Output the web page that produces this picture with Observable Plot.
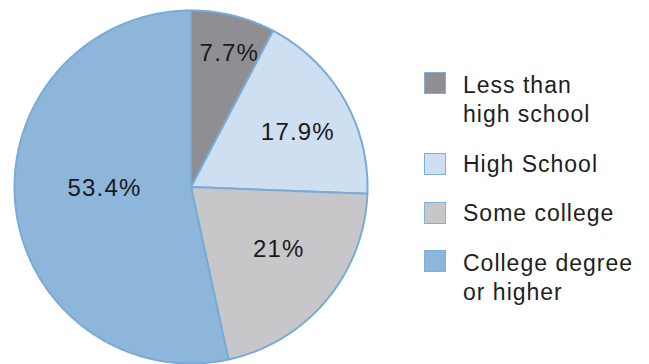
<!DOCTYPE html>
<html>
<head>
<meta charset="utf-8">
<script src="https://cdn.jsdelivr.net/npm/d3@7"></script>
<script src="https://cdn.jsdelivr.net/npm/@observablehq/plot@0.6"></script>
<style>
  html, body { margin: 0; padding: 0; background: #fff; }
  #wrap { position: relative; width: 649px; height: 364px; overflow: hidden; font-family: "Liberation Sans", Arial, Helvetica, sans-serif; }
  #wrap svg { position: absolute; left: 0; top: 0; }
  #wrap svg text { letter-spacing: 1.2px; }
  .leg { position: absolute; left: 424px; color: #1e1e1e; font-size: 23px; line-height: 29px; letter-spacing: 1px; }
  .leg .sw { position: absolute; left: 0; width: 20px; height: 20px; border: 1.5px solid #7fb0da; }
  .leg .tx { position: absolute; left: 39px; top: 0; white-space: nowrap; }
</style>
</head>
<body>
<div id="wrap"></div>
<script>
const categories = ["Less than\nhigh school", "High School", "Some college", "College degree\nor higher"];
const values = [7.7, 17.9, 21, 53.4];
const valueLabels = ["7.7%", "17.9%", "21%", "53.4%"];
const colors = ["#8f8f93", "#cddff0", "#c7c7c9", "#8db6da"];

// layout (not data)
const labelRadius = [0.79, 0.68, 0.61, 0.49];
const labelAngleShift = [2.1, 3.0, -4.5, 5.1];
const legendTops = [71, 150, 199, 249];
const swatchOffset = [1, 3, 3, 1];

const pie = d3.pie().sort(null).value(d => d.value)(categories.map((c, i) => ({cat: c, value: values[i]})));

const poly = [];
const labels = [];
pie.forEach((s, i) => {
  const a0 = s.startAngle, a1 = s.endAngle;
  poly.push({cat: s.data.cat, x: 0, y: 0});
  const n = Math.max(2, Math.ceil((a1 - a0) / (Math.PI / 360)));
  for (let k = 0; k <= n; k++) {
    const a = a0 + (a1 - a0) * k / n;
    poly.push({cat: s.data.cat, x: Math.sin(a), y: Math.cos(a)});
  }
  const m = (a0 + a1) / 2 + labelAngleShift[i] * Math.PI / 180;
  labels.push({text: valueLabels[i], x: labelRadius[i] * Math.sin(m), y: labelRadius[i] * Math.cos(m)});
});

const chart = Plot.plot({
  width: 649,
  height: 364,
  marginLeft: 14,
  marginRight: 282,
  marginTop: 10,
  marginBottom: 1,
  x: {domain: [-1, 1], axis: null},
  y: {domain: [-1, 1], axis: null},
  color: {domain: categories, range: colors},
  style: {fontFamily: "Liberation Sans, Arial, Helvetica, sans-serif", background: "transparent"},
  marks: [
    Plot.line(poly, {x: "x", y: "y", z: "cat", fill: "cat", stroke: "#78acd7", strokeWidth: 2, curve: "linear-closed", strokeLinejoin: "round"}),
    Plot.text(labels, {x: "x", y: "y", text: "text", fontSize: 24, fill: "#1a1a1a", lineAnchor: "middle"})
  ]
});
const wrap = document.getElementById("wrap");
wrap.appendChild(chart);

categories.forEach((c, i) => {
  const item = document.createElement("div");
  item.className = "leg";
  item.style.top = legendTops[i] + "px";
  const sw = document.createElement("div");
  sw.className = "sw";
  sw.style.top = swatchOffset[i] + "px";
  sw.style.background = colors[i];
  const tx = document.createElement("div");
  tx.className = "tx";
  tx.innerHTML = c.split("\n").join("<br>");
  item.appendChild(sw);
  item.appendChild(tx);
  wrap.appendChild(item);
});
</script>
</body>
</html>
